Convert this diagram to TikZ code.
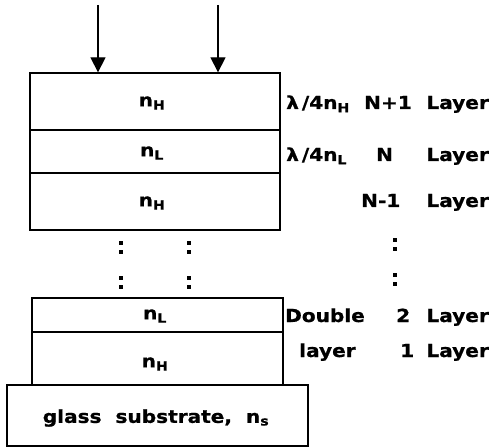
\documentclass[tikz,border=0pt]{standalone}
\usepackage{fontspec}
\setmainfont[FakeStretch=1.12,FakeBold=0.8,BoldFont={DejaVu Sans Bold}]{DejaVu Sans Bold}
\usetikzlibrary{arrows.meta}
\begin{document}
\begin{tikzpicture}[x=1bp,y=-1bp,
  lay/.style={draw,line width=1.3bp,rectangle,inner sep=0pt},
  lbl/.style={inner sep=0pt,anchor=base west,font=\fontsize{18}{20}\selectfont},
  arr/.style={line width=1.3bp,-{Triangle[width=15bp,length=15bp]}},
  dot/.style={fill=black}]
\useasboundingbox (0,0) rectangle (491,448);
% upper stack
\node[lay,minimum width=250bp,minimum height=57bp] (h1) at (155,101.5) {};
\node[lay,minimum width=250bp,minimum height=43bp] (l1) at (155,151.5) {};
\node[lay,minimum width=250bp,minimum height=57bp] (h2) at (155,201.5) {};
\node[lbl,anchor=center] (th1) at (152,103) {n\textsubscript{H}};
\node[lbl,anchor=center] (tl1) at (152,153) {n\textsubscript{L}};
\node[lbl,anchor=center] (th2) at (152,203) {n\textsubscript{H}};
% lower stack
\node[lay,minimum width=251bp,minimum height=34bp] (l2) at (157.5,315) {};
\node[lay,minimum width=251bp,minimum height=53bp] (h3) at (157.5,358.5) {};
\node[lbl,anchor=center] (tl2) at (155,316) {n\textsubscript{L}};
\node[lbl,anchor=center] (th3) at (155,364) {n\textsubscript{H}};
% substrate
\node[lay,minimum width=301bp,minimum height=61bp] (sub) at (157.5,415.5) {};
\node[lbl,anchor=center] (tsub) at (156,418) {glass\ \ substrate,\ \ n\textsubscript{s}};
% arrows
\coordinate (a1) at (98,5);
\coordinate (a2) at (218,5);
\draw[arr] (a1) -- (a1 |- h1.north);
\draw[arr] (a2) -- (a2 |- h1.north);
% right labels
\node[lbl] (q1) at (286,109) {λ\,/4n\textsubscript{H}};
\node[lbl] (n1) at (364,109) {N+1};
\node[lbl,anchor=base east] (y1) at (489,109) {Layer};
\node[lbl] (q2) at (286,161) {λ\,/4n\textsubscript{L}};
\node[lbl] (n2) at (376,161) {N};
\node[lbl,anchor=base east] (y2) at (489,161) {Layer};
\node[lbl] (n3) at (361,207) {N-1};
\node[lbl,anchor=base east] (y3) at (489,207) {Layer};
\node[lbl] (d1) at (285,322) {Double};
\node[lbl] (n4) at (396,322) {2};
\node[lbl,anchor=base east] (y4) at (489,322) {Layer};
\node[lbl] (d2) at (299,357) {layer};
\node[lbl] (n5) at (400,357) {1};
\node[lbl,anchor=base east] (y5) at (489,357) {Layer};
% ellipsis dots
\foreach \x in {121,189} {
  \foreach \y in {243,252,278,287} {
    \fill[dot] (\x-2,\y-2) rectangle (\x+2,\y+2);
  }
}
\foreach \y in {240,249,275,284} {
  \fill[dot] (393,\y-2) rectangle (397,\y+2);
}
\end{tikzpicture}
\end{document}
